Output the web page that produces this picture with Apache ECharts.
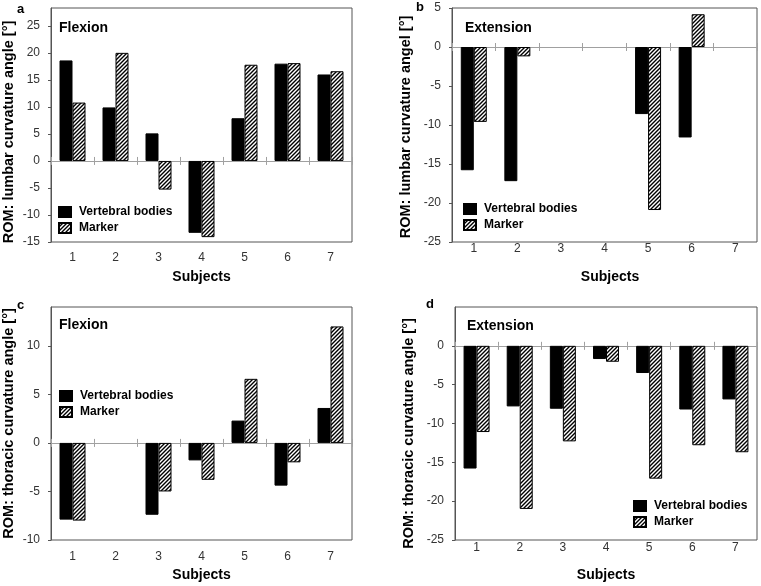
<!DOCTYPE html>
<html><head><meta charset="utf-8">
<script src="https://cdn.jsdelivr.net/npm/echarts@6/dist/echarts.min.js"></script>
<style>html,body{margin:0;padding:0;background:#fff}#c{width:761px;height:586px}</style>
</head><body><div id="c"></div>
<script>
const categories = ['1','2','3','4','5','6','7'];
const seriesNames = ['Vertebral bodies','Marker'];
// a: lumbar flexion
const aVB = [18.6, 9.9, 5.1, -13.3, 7.9, 18.0, 16.0];
const aMk = [10.8, 20.0, -5.3, -14.1, 17.8, 18.1, 16.6];
// b: lumbar extension
const bVB = [-15.8, -17.2, null, null, -8.6, -11.6, null];
const bMk = [-9.6, -1.2, null, null, -20.9, 4.2, null];
// c: thoracic flexion
const cVB = [-7.9, null, -7.4, -1.8, 2.3, -4.4, 3.6];
const cMk = [-8.0, null, -5.0, -3.8, 6.6, -2.0, 12.0];
// d: thoracic extension
const dVB = [-15.8, -7.8, -8.1, -1.7, -3.5, -8.2, -6.9];
const dMk = [-11.1, -21.0, -12.3, -2.05, -17.1, -12.8, -13.7];
const panelLetters = ['a','b','c','d'];
const panelTitles = ['Flexion','Extension','Flexion','Extension'];
const yNames = ['ROM: lumbar curvature angle [°]','ROM: lumbar curvature angel [°]','ROM: thoracic curvature angle [°]','ROM: thoracic curvature angle [°]'];
const xName = 'Subjects';

const FONT = '"Liberation Sans", Arial, sans-serif';
// hatch pattern
const pc = document.createElement('canvas');
const N = 4; pc.width = N; pc.height = N;
const g = pc.getContext('2d');
g.fillStyle = '#fff'; g.fillRect(0,0,N,N);
g.strokeStyle = '#000'; g.lineWidth = 1.4;
g.beginPath();
g.moveTo(0,N); g.lineTo(N,0);
g.moveTo(-1,1); g.lineTo(1,-1);
g.moveTo(N-1,N+1); g.lineTo(N+1,N-1);
g.stroke();
const hatch = {image: pc, repeat: 'repeat'};

const panels = [
  {vb:aVB, mk:aMk, grid:{left:46, top:8, right:409, height:234}, y:{min:-15,max:28.3,showMax:false},
   xLabelMargin:10, yPad:[0,14,0,0], xPad:[0,0,0,0], letter:[17,3], title:[59,21], legend:[58,206]},
  {vb:bVB, mk:bMk, grid:{left:452, top:8, right:4, height:234}, y:{min:-25,max:5,showMax:true},
   xLabelMargin:1, yPad:[0,4,0,0], xPad:[0,0,0,11], letter:[416,1], title:[465,21], legend:[463,203]},
  {vb:cVB, mk:cMk, grid:{left:46, top:307, right:409, height:233}, y:{min:-10,max:14,showMax:false},
   xLabelMargin:11, yPad:[0,0,0,0], xPad:[0,0,0,0], letter:[17,299], title:[59,318], legend:[59,390]},
  {vb:dVB, mk:dMk, grid:{left:455, top:307, right:4, height:233}, y:{min:-25,max:5,showMax:false},
   xLabelMargin:2, yPad:[0,20,0,0], xPad:[0,0,0,0], letter:[426,298], title:[467,319], legend:[633,500]}
];

const option = {animation:false, backgroundColor:'#fff', grid:[], xAxis:[], yAxis:[], series:[], title:[], legend:[]};
panels.forEach((p, i) => {
  option.grid.push(Object.assign({show:true, borderColor:'#555', borderWidth:1, backgroundColor:'transparent'}, p.grid));
  option.xAxis.push({type:'category', gridIndex:i, data:categories, position:'bottom',
    axisLine:{show:false, onZero:false}, axisTick:{show:false}, splitLine:{show:false},
    axisLabel:{margin:p.xLabelMargin, fontSize:12, color:'#333', fontFamily:FONT},
    name:xName, nameLocation:'middle', nameGap:28,
    nameTextStyle:{fontSize:14, fontWeight:'bold', color:'#000', fontFamily:FONT, padding:p.xPad}});
  [false, true].forEach(inside => {
    option.xAxis.push({type:'category', gridIndex:i, data:categories, position:'bottom',
      axisLine:{show:true, onZero:true, onZeroAxisIndex:i, lineStyle:{color:'#a0a0a0', width:1}},
      axisTick:{show:true, inside:inside, length:4, lineStyle:{color:'#a0a0a0'}},
      axisLabel:{show:false}, splitLine:{show:false}});
  });
  option.yAxis.push({type:'value', gridIndex:i, min:p.y.min, max:p.y.max, interval:5,
    axisLine:{show:true, lineStyle:{color:'#555'}}, axisTick:{show:true, length:3, lineStyle:{color:'#555'}},
    splitLine:{show:false},
    axisLabel:{margin:11, fontSize:12, color:'#333', fontFamily:FONT, showMaxLabel:p.y.showMax, showMinLabel:true},
    name:yNames[i], nameLocation:'middle', nameRotate:90, nameGap:i%2===0?35:39,
    nameTextStyle:{fontSize:14.5, fontWeight:'bold', color:'#000', fontFamily:FONT, padding:p.yPad}});
  option.series.push({type:'bar', name:seriesNames[0], xAxisIndex:3*i, yAxisIndex:i, data:p.vb,
    barWidth:13, barGap:'0%', itemStyle:{color:'#000', borderColor:'#000', borderWidth:1}});
  option.series.push({type:'bar', name:seriesNames[1], xAxisIndex:3*i, yAxisIndex:i, data:p.mk,
    barWidth:13, barGap:'0%', itemStyle:{color:hatch, borderColor:'#000', borderWidth:1}});
  option.title.push({text:panelLetters[i], left:p.letter[0], top:p.letter[1], padding:0,
    textStyle:{fontSize:13, fontWeight:'bold', color:'#000', fontFamily:FONT}});
  option.title.push({text:panelTitles[i], left:p.title[0], top:p.title[1], padding:0,
    textStyle:{fontSize:14, fontWeight:'bold', color:'#000', fontFamily:FONT}});
  option.legend.push({data:seriesNames, orient:'vertical', left:p.legend[0], top:p.legend[1], padding:0,
    itemWidth:12, itemHeight:10, itemGap:4, icon:'rect', selectedMode:false,
    textStyle:{fontSize:12, fontWeight:'bold', color:'#000', fontFamily:FONT, padding:[0,0,0,3]}});
});
const chart = echarts.init(document.getElementById('c'), null, {renderer:'canvas'});
chart.setOption(option);
</script></body></html>
